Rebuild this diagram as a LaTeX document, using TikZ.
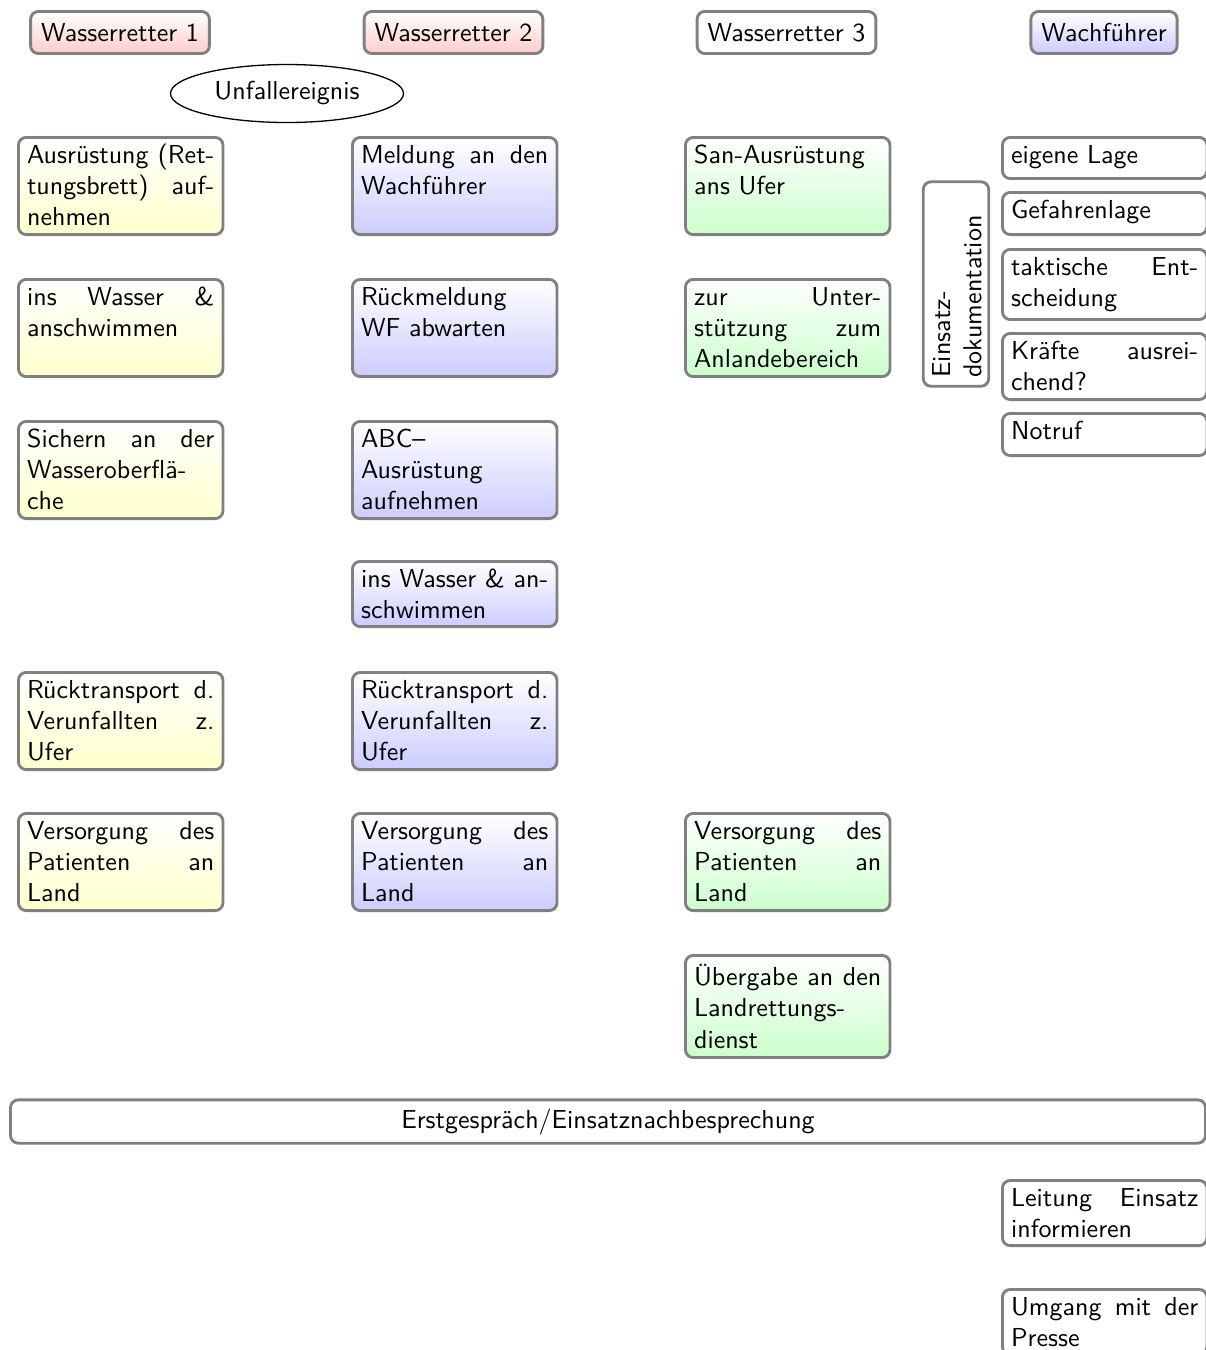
\documentclass[tikz,border=0pt]{standalone}
\usetikzlibrary{shapes.geometric}
\pretolerance=10000
\tolerance=10000
\hbadness=10000
\hfuzz=4pt
\tikzset{
  every node/.style={font=\sffamily},
  boxline/.style={draw=black!50, line width=1.1pt, rounded corners=3pt},
  cell/.style={boxline, anchor=north west, text width=72pt, align=justify, inner sep=3.333pt,
               text height=6.7pt, text depth=#1},
  yel/.style={top color=white, bottom color=yellow!20},
  blu/.style={top color=white, bottom color=blue!20},
  grn/.style={top color=white, bottom color=green!20},
  red/.style={top color=white, bottom color=red!20},
  wht/.style={fill=white},
  head/.style={boxline, minimum height=16.2pt, inner xsep=4pt, inner ysep=3.333pt},
}
\begin{document}
\begin{tikzpicture}[x=0.3846pt, y=-0.3846pt]
\useasboundingbox (0,0) rectangle (1206,1350);

% headers
\node[head, red] (h1) at (120,32.5) {Wasserretter 1};
\node[head, red] (h2) at (453.5,32.5) {Wasserretter 2};
\node[head, wht] (h3) at (786.5,32.5) {Wasserretter 3};
\node[head, blu] (h4) at (1104,32.5) {Wachführer};

\node[ellipse, draw, line width=0.5pt, minimum width=89.6pt, minimum height=22.3pt, inner sep=1pt] (unfall) at (287,93.5) {Unfallereignis};

% column 1
\node[cell=24pt, yel] (a1) at (17,136) {Ausrüstung (Ret-\linebreak tungsbrett) auf-\linebreak nehmen};
\node[cell=24pt, yel] (a2) at (17,278) {ins Wasser \&\linebreak anschwimmen};
\node[cell=24pt, yel] (a3) at (17,420) {Sichern an der\linebreak Wasseroberflä-\linebreak che};
\node[cell=24pt, yel] (a5) at (17,671) {Rücktransport d.\linebreak Verunfallten z.\linebreak Ufer};
\node[cell=24pt, yel] (a6) at (17,812) {Versorgung des\linebreak Patienten an\linebreak Land};

% column 2
\node[cell=24pt, blu] (b1) at (351,136) {Meldung an den\linebreak Wachführer};
\node[cell=24pt, blu] (b2) at (351,278) {Rückmeldung\\ WF abwarten};
\node[cell=24pt, blu] (b3) at (351,420) {ABC--\\ Ausrüstung\\ aufnehmen};
\node[cell=11.7pt, blu] (b4) at (351,560) {ins Wasser \& an-\linebreak schwimmen};
\node[cell=24pt, blu] (b5) at (351,671) {Rücktransport d.\linebreak Verunfallten z.\linebreak Ufer};
\node[cell=24pt, blu] (b6) at (351,812) {Versorgung des\linebreak Patienten an\linebreak Land};

% column 3
\node[cell=24pt, grn] (c1) at (684,136) {San-Ausrüstung\\ ans Ufer};
\node[cell=24pt, grn] (c2) at (684,278) {zur Unter-\linebreak stützung zum\linebreak Anlandebereich};
\node[cell=24pt, grn] (c6) at (684,812) {Versorgung des\linebreak Patienten an\linebreak Land};
\node[cell=24.3pt, text height=8.3pt, grn] (c7) at (684,954) {Übergabe an den\linebreak Landrettungs-\\ dienst};

% column 4
\node[boxline, rotate=90, text width=72pt, align=left, inner sep=3.333pt,
      text height=7pt, text depth=11.5pt, wht] (doku) at (956,284) {Einsatz-\\dokumentation};
\node[cell=2.45pt, wht] (d1) at (1001,136) {eigene Lage};
\node[cell=2.84pt, wht] (d2) at (1001,191) {Gefahrenlage};
\node[cell=13.6pt, wht] (d3) at (1001,248) {taktische Ent-\linebreak scheidung};
\node[cell=12.07pt, wht] (d4) at (1001,332) {Kräfte ausrei-\linebreak chend?};
\node[cell=2.84pt, wht] (d5) at (1001,412) {Notruf};

\node[boxline, wht, minimum width=459.6pt, minimum height=16.2pt, inner sep=3.333pt] (nach) at (608,1121.5) {Erstgespräch/Einsatznachbesprechung};

\node[cell=11.7pt, wht] (d6) at (1001,1179) {Leitung Einsatz\linebreak informieren};
\node[cell=11.7pt, wht] (d7) at (1001,1288) {Umgang mit der\linebreak Presse};
\end{tikzpicture}
\end{document}
